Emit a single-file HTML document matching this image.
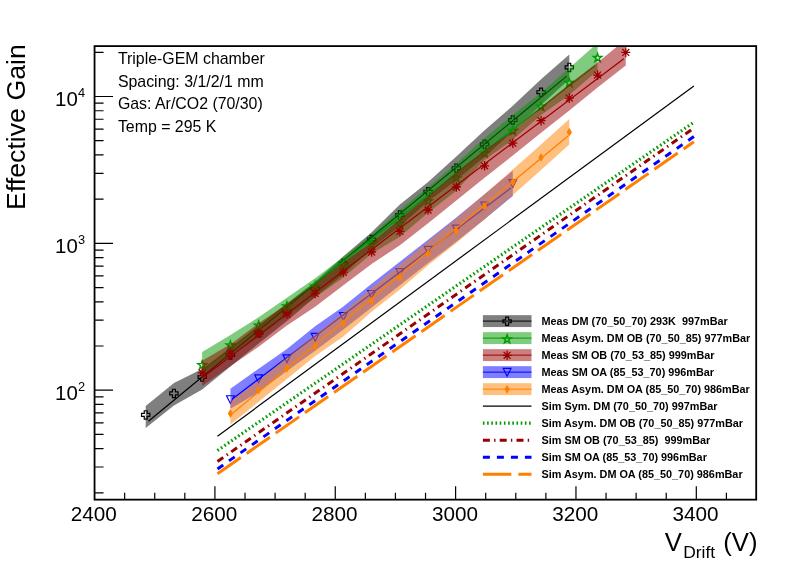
<!DOCTYPE html>
<html><head><meta charset="utf-8"><title>Effective Gain vs V Drift</title>
<style>html,body{margin:0;padding:0;background:#fff}body{width:788px;height:568px;position:relative;overflow:hidden;font-family:"Liberation Sans",sans-serif}</style></head>
<body>
<svg width="788" height="568" viewBox="0 0 788 568" style="position:absolute;left:0;top:0;filter:grayscale(0)">
<defs><clipPath id="fc"><rect x="94.55" y="46.1" width="661.65" height="453.55"/></clipPath></defs>
<rect x="0" y="0" width="788" height="568" fill="#fff"/>
<g clip-path="url(#fc)">
<polygon points="145.7,406.1 173.94,383 202.18,369 230.42,347.7 258.66,325.5 286.9,303.5 315.14,281.5 343.38,256.3 371.62,232.3 399.86,204.5 428.1,181.9 456.34,156.4 484.58,130.2 512.82,105.8 541.06,79.2 569.3,54.5 569.3,79.3 541.06,105.1 512.82,131.5 484.58,157 456.34,180 428.1,201.5 399.86,226.2 371.62,248 343.38,274.5 315.14,297 286.9,321 258.66,343.5 230.42,366.5 202.18,389.6 173.94,405.4 145.7,427.9" fill="#000000" fill-opacity="0.5"/>
<line x1="148.4" y1="421.3" x2="566.8" y2="76.1" stroke="#000000" stroke-width="1.2"/>
<polygon points="144.25,410.75 147.15,410.75 147.15,413.45 149.85,413.45 149.85,416.35 147.15,416.35 147.15,419.05 144.25,419.05 144.25,416.35 141.55,416.35 141.55,413.45 144.25,413.45" fill="none" stroke="#000000" stroke-width="1.2"/>
<polygon points="172.49,389.25 175.39,389.25 175.39,391.95 178.09,391.95 178.09,394.85 175.39,394.85 175.39,397.55 172.49,397.55 172.49,394.85 169.79,394.85 169.79,391.95 172.49,391.95" fill="none" stroke="#000000" stroke-width="1.2"/>
<polygon points="200.73,372.85 203.63,372.85 203.63,375.55 206.33,375.55 206.33,378.45 203.63,378.45 203.63,381.15 200.73,381.15 200.73,378.45 198.03,378.45 198.03,375.55 200.73,375.55" fill="none" stroke="#000000" stroke-width="1.2"/>
<polygon points="228.97,350.85 231.87,350.85 231.87,353.55 234.57,353.55 234.57,356.45 231.87,356.45 231.87,359.15 228.97,359.15 228.97,356.45 226.27,356.45 226.27,353.55 228.97,353.55" fill="none" stroke="#000000" stroke-width="1.2"/>
<polygon points="257.21,328.85 260.11,328.85 260.11,331.55 262.81,331.55 262.81,334.45 260.11,334.45 260.11,337.15 257.21,337.15 257.21,334.45 254.51,334.45 254.51,331.55 257.21,331.55" fill="none" stroke="#000000" stroke-width="1.2"/>
<polygon points="285.45,306.85 288.35,306.85 288.35,309.55 291.05,309.55 291.05,312.45 288.35,312.45 288.35,315.15 285.45,315.15 285.45,312.45 282.75,312.45 282.75,309.55 285.45,309.55" fill="none" stroke="#000000" stroke-width="1.2"/>
<polygon points="313.69,284.35 316.59,284.35 316.59,287.05 319.29,287.05 319.29,289.95 316.59,289.95 316.59,292.65 313.69,292.65 313.69,289.95 310.99,289.95 310.99,287.05 313.69,287.05" fill="none" stroke="#000000" stroke-width="1.2"/>
<polygon points="341.93,259.35 344.83,259.35 344.83,262.05 347.53,262.05 347.53,264.95 344.83,264.95 344.83,267.65 341.93,267.65 341.93,264.95 339.23,264.95 339.23,262.05 341.93,262.05" fill="none" stroke="#000000" stroke-width="1.2"/>
<polygon points="370.17,235.35 373.07,235.35 373.07,238.05 375.77,238.05 375.77,240.95 373.07,240.95 373.07,243.65 370.17,243.65 370.17,240.95 367.47,240.95 367.47,238.05 370.17,238.05" fill="none" stroke="#000000" stroke-width="1.2"/>
<polygon points="398.41,210.95 401.31,210.95 401.31,213.65 404.01,213.65 404.01,216.55 401.31,216.55 401.31,219.25 398.41,219.25 398.41,216.55 395.71,216.55 395.71,213.65 398.41,213.65" fill="none" stroke="#000000" stroke-width="1.2"/>
<polygon points="426.65,187.55 429.55,187.55 429.55,190.25 432.25,190.25 432.25,193.15 429.55,193.15 429.55,195.85 426.65,195.85 426.65,193.15 423.95,193.15 423.95,190.25 426.65,190.25" fill="none" stroke="#000000" stroke-width="1.2"/>
<polygon points="454.89,164.05 457.79,164.05 457.79,166.75 460.49,166.75 460.49,169.65 457.79,169.65 457.79,172.35 454.89,172.35 454.89,169.65 452.19,169.65 452.19,166.75 454.89,166.75" fill="none" stroke="#000000" stroke-width="1.2"/>
<polygon points="483.13,140.15 486.03,140.15 486.03,142.85 488.73,142.85 488.73,145.75 486.03,145.75 486.03,148.45 483.13,148.45 483.13,145.75 480.43,145.75 480.43,142.85 483.13,142.85" fill="none" stroke="#000000" stroke-width="1.2"/>
<polygon points="511.37,115.9 514.27,115.9 514.27,118.6 516.97,118.6 516.97,121.5 514.27,121.5 514.27,124.2 511.37,124.2 511.37,121.5 508.67,121.5 508.67,118.6 511.37,118.6" fill="none" stroke="#000000" stroke-width="1.2"/>
<polygon points="539.61,88.05 542.51,88.05 542.51,90.75 545.21,90.75 545.21,93.65 542.51,93.65 542.51,96.35 539.61,96.35 539.61,93.65 536.91,93.65 536.91,90.75 539.61,90.75" fill="none" stroke="#000000" stroke-width="1.2"/>
<polygon points="567.85,63.25 570.75,63.25 570.75,65.95 573.45,65.95 573.45,68.85 570.75,68.85 570.75,71.55 567.85,71.55 567.85,68.85 565.15,68.85 565.15,65.95 567.85,65.95" fill="none" stroke="#000000" stroke-width="1.2"/>
<polygon points="202.18,352.1 230.42,335.1 258.66,317.2 286.9,297.7 315.14,278.3 343.38,257 371.62,234.8 399.86,209.8 428.1,187.2 456.34,163.5 484.58,138.1 512.82,114.8 541.06,92.8 569.3,68 597.54,43 597.54,70.7 569.3,95 541.06,114.9 512.82,139.6 484.58,160.1 456.34,190.7 428.1,212.7 399.86,236.7 371.62,253.7 343.38,277.5 315.14,297.4 286.9,316 258.66,337.4 230.42,355 202.18,376.3" fill="#009900" fill-opacity="0.5"/>
<line x1="204" y1="369.2" x2="595.3" y2="65.6" stroke="#009900" stroke-width="1.2"/>
<polygon points="202.18,360.6 203.21,363.68 206.46,363.71 203.84,365.64 204.83,368.74 202.18,366.85 199.53,368.74 200.52,365.64 197.9,363.71 201.15,363.68" fill="none" stroke="#009900" stroke-width="1.35" stroke-linejoin="miter"/>
<polygon points="230.42,340.9 231.45,343.98 234.7,344.01 232.08,345.94 233.07,349.04 230.42,347.15 227.77,349.04 228.76,345.94 226.14,344.01 229.39,343.98" fill="none" stroke="#009900" stroke-width="1.35" stroke-linejoin="miter"/>
<polygon points="258.66,321 259.69,324.08 262.94,324.11 260.32,326.04 261.31,329.14 258.66,327.25 256.01,329.14 257,326.04 254.38,324.11 257.63,324.08" fill="none" stroke="#009900" stroke-width="1.35" stroke-linejoin="miter"/>
<polygon points="286.9,301.7 287.93,304.78 291.18,304.81 288.56,306.74 289.55,309.84 286.9,307.95 284.25,309.84 285.24,306.74 282.62,304.81 285.87,304.78" fill="none" stroke="#009900" stroke-width="1.35" stroke-linejoin="miter"/>
<polygon points="315.14,281.7 316.17,284.78 319.42,284.81 316.8,286.74 317.79,289.84 315.14,287.95 312.49,289.84 313.48,286.74 310.86,284.81 314.11,284.78" fill="none" stroke="#009900" stroke-width="1.35" stroke-linejoin="miter"/>
<polygon points="343.38,260.7 344.41,263.78 347.66,263.81 345.04,265.74 346.03,268.84 343.38,266.95 340.73,268.84 341.72,265.74 339.1,263.81 342.35,263.78" fill="none" stroke="#009900" stroke-width="1.35" stroke-linejoin="miter"/>
<polygon points="371.62,240 372.65,243.08 375.9,243.11 373.28,245.04 374.27,248.14 371.62,246.25 368.97,248.14 369.96,245.04 367.34,243.11 370.59,243.08" fill="none" stroke="#009900" stroke-width="1.35" stroke-linejoin="miter"/>
<polygon points="399.86,219.4 400.89,222.48 404.14,222.51 401.52,224.44 402.51,227.54 399.86,225.65 397.21,227.54 398.2,224.44 395.58,222.51 398.83,222.48" fill="none" stroke="#009900" stroke-width="1.35" stroke-linejoin="miter"/>
<polygon points="428.1,196.7 429.13,199.78 432.38,199.81 429.76,201.74 430.75,204.84 428.1,202.95 425.45,204.84 426.44,201.74 423.82,199.81 427.07,199.78" fill="none" stroke="#009900" stroke-width="1.35" stroke-linejoin="miter"/>
<polygon points="456.34,173.7 457.37,176.78 460.62,176.81 458,178.74 458.99,181.84 456.34,179.95 453.69,181.84 454.68,178.74 452.06,176.81 455.31,176.78" fill="none" stroke="#009900" stroke-width="1.35" stroke-linejoin="miter"/>
<polygon points="484.58,148.9 485.61,151.98 488.86,152.01 486.24,153.94 487.23,157.04 484.58,155.15 481.93,157.04 482.92,153.94 480.3,152.01 483.55,151.98" fill="none" stroke="#009900" stroke-width="1.35" stroke-linejoin="miter"/>
<polygon points="512.82,126.4 513.85,129.48 517.1,129.51 514.48,131.44 515.47,134.54 512.82,132.65 510.17,134.54 511.16,131.44 508.54,129.51 511.79,129.48" fill="none" stroke="#009900" stroke-width="1.35" stroke-linejoin="miter"/>
<polygon points="541.06,102.1 542.09,105.18 545.34,105.21 542.72,107.14 543.71,110.24 541.06,108.35 538.41,110.24 539.4,107.14 536.78,105.21 540.03,105.18" fill="none" stroke="#009900" stroke-width="1.35" stroke-linejoin="miter"/>
<polygon points="569.3,78.4 570.33,81.48 573.58,81.51 570.96,83.44 571.95,86.54 569.3,84.65 566.65,86.54 567.64,83.44 565.02,81.51 568.27,81.48" fill="none" stroke="#009900" stroke-width="1.35" stroke-linejoin="miter"/>
<polygon points="597.54,53.4 598.57,56.48 601.82,56.51 599.2,58.44 600.19,61.54 597.54,59.65 594.89,61.54 595.88,58.44 593.26,56.51 596.51,56.48" fill="none" stroke="#009900" stroke-width="1.35" stroke-linejoin="miter"/>
<polygon points="202.18,360.8 230.42,344.2 258.66,323.3 286.9,304.1 315.14,283.9 343.38,262.2 371.62,242.4 399.86,219.3 428.1,196 456.34,172.3 484.58,150 512.82,131.1 541.06,106.9 569.3,83.9 597.54,62.5 625.78,39.5 625.78,65.4 597.54,87.6 569.3,110.5 541.06,132.8 512.82,155.5 484.58,177.7 456.34,200.4 428.1,223.3 399.86,245.3 371.62,264 343.38,285.3 315.14,306.8 286.9,325.5 258.66,346.7 230.42,366.3 202.18,386" fill="#990000" fill-opacity="0.5"/>
<line x1="204" y1="376.5" x2="623.8" y2="58.7" stroke="#990000" stroke-width="1.2"/>
<path d="M202.18 368.1V377.7M197.68 372.9H206.68M198.73 369.45L205.63 376.35M198.73 376.35L205.63 369.45" fill="none" stroke="#990000" stroke-width="1.3"/>
<path d="M230.42 348.6V358.2M225.92 353.4H234.92M226.97 349.95L233.87 356.85M226.97 356.85L233.87 349.95" fill="none" stroke="#990000" stroke-width="1.3"/>
<path d="M258.66 328.5V338.1M254.16 333.3H263.16M255.21 329.85L262.11 336.75M255.21 336.75L262.11 329.85" fill="none" stroke="#990000" stroke-width="1.3"/>
<path d="M286.9 309.2V318.8M282.4 314H291.4M283.45 310.55L290.35 317.45M283.45 317.45L290.35 310.55" fill="none" stroke="#990000" stroke-width="1.3"/>
<path d="M315.14 288.6V298.2M310.64 293.4H319.64M311.69 289.95L318.59 296.85M311.69 296.85L318.59 289.95" fill="none" stroke="#990000" stroke-width="1.3"/>
<path d="M343.38 267.4V277M338.88 272.2H347.88M339.93 268.75L346.83 275.65M339.93 275.65L346.83 268.75" fill="none" stroke="#990000" stroke-width="1.3"/>
<path d="M371.62 247.2V256.8M367.12 252H376.12M368.17 248.55L375.07 255.45M368.17 255.45L375.07 248.55" fill="none" stroke="#990000" stroke-width="1.3"/>
<path d="M399.86 226.6V236.2M395.36 231.4H404.36M396.41 227.95L403.31 234.85M396.41 234.85L403.31 227.95" fill="none" stroke="#990000" stroke-width="1.3"/>
<path d="M428.1 205.2V214.8M423.6 210H432.6M424.65 206.55L431.55 213.45M424.65 213.45L431.55 206.55" fill="none" stroke="#990000" stroke-width="1.3"/>
<path d="M456.34 182.2V191.8M451.84 187H460.84M452.89 183.55L459.79 190.45M452.89 190.45L459.79 183.55" fill="none" stroke="#990000" stroke-width="1.3"/>
<path d="M484.58 161V170.6M480.08 165.8H489.08M481.13 162.35L488.03 169.25M481.13 169.25L488.03 162.35" fill="none" stroke="#990000" stroke-width="1.3"/>
<path d="M512.82 138.4V148M508.32 143.2H517.32M509.37 139.75L516.27 146.65M509.37 146.65L516.27 139.75" fill="none" stroke="#990000" stroke-width="1.3"/>
<path d="M541.06 115.9V125.5M536.56 120.7H545.56M537.61 117.25L544.51 124.15M537.61 124.15L544.51 117.25" fill="none" stroke="#990000" stroke-width="1.3"/>
<path d="M569.3 93.3V102.9M564.8 98.1H573.8M565.85 94.65L572.75 101.55M565.85 101.55L572.75 94.65" fill="none" stroke="#990000" stroke-width="1.3"/>
<path d="M597.54 70.3V79.9M593.04 75.1H602.04M594.09 71.65L600.99 78.55M594.09 78.55L600.99 71.65" fill="none" stroke="#990000" stroke-width="1.3"/>
<path d="M625.78 47.6V57.2M621.28 52.4H630.28M622.33 48.95L629.23 55.85M622.33 55.85L629.23 48.95" fill="none" stroke="#990000" stroke-width="1.3"/>
<polygon points="230.42,388.7 258.66,368.7 286.9,349 315.14,326.2 343.38,306.5 371.62,283.7 399.86,261.7 428.1,239.7 456.34,217.5 484.58,194.3 512.82,170.5 512.82,196 484.58,219.3 456.34,241.8 428.1,263.1 399.86,285.3 371.62,307.4 343.38,329.5 315.14,350.8 286.9,371 258.66,392.1 230.42,408.8" fill="#0000ff" fill-opacity="0.5"/>
<line x1="232.3" y1="398.9" x2="511" y2="188" stroke="#0000ff" stroke-width="1.3"/>
<polygon points="226.52,395.7 234.32,395.7 230.42,403.5" fill="none" stroke="#0000ff" stroke-width="1.15"/>
<polygon points="254.76,374.9 262.56,374.9 258.66,382.7" fill="none" stroke="#0000ff" stroke-width="1.15"/>
<polygon points="283,354.8 290.8,354.8 286.9,362.6" fill="none" stroke="#0000ff" stroke-width="1.15"/>
<polygon points="311.24,333.4 319.04,333.4 315.14,341.2" fill="none" stroke="#0000ff" stroke-width="1.15"/>
<polygon points="339.48,312.5 347.28,312.5 343.38,320.3" fill="none" stroke="#0000ff" stroke-width="1.15"/>
<polygon points="367.72,290.5 375.52,290.5 371.62,298.3" fill="none" stroke="#0000ff" stroke-width="1.15"/>
<polygon points="395.96,268.6 403.76,268.6 399.86,276.4" fill="none" stroke="#0000ff" stroke-width="1.15"/>
<polygon points="424.2,246.3 432,246.3 428.1,254.1" fill="none" stroke="#0000ff" stroke-width="1.15"/>
<polygon points="452.44,225.1 460.24,225.1 456.34,232.9" fill="none" stroke="#0000ff" stroke-width="1.15"/>
<polygon points="480.68,202.1 488.48,202.1 484.58,209.9" fill="none" stroke="#0000ff" stroke-width="1.15"/>
<polygon points="508.92,179.6 516.72,179.6 512.82,187.4" fill="none" stroke="#0000ff" stroke-width="1.15"/>
<polygon points="230.42,401.2 258.66,380.7 286.9,357.5 315.14,334.8 343.38,312.5 371.62,288.1 399.86,265 428.1,241.4 456.34,218.5 484.58,194 512.82,169.5 541.06,144.6 569.3,119.1 569.3,144.5 541.06,170 512.82,195 484.58,219.3 456.34,243 428.1,265.2 399.86,289.5 371.62,311.8 343.38,336.5 315.14,356 286.9,379 258.66,401.8 230.42,424.6" fill="#ff8000" fill-opacity="0.5"/>
<line x1="232.3" y1="413.6" x2="568" y2="135.9" stroke="#ff8000" stroke-width="1.3"/>
<polygon points="230.42,409.1 233.07,413.5 230.42,417.9 227.77,413.5" fill="#ff8000" stroke="none"/>
<polygon points="258.66,385.6 261.31,390 258.66,394.4 256.01,390" fill="#ff8000" stroke="none"/>
<polygon points="286.9,364 289.55,368.4 286.9,372.8 284.25,368.4" fill="#ff8000" stroke="none"/>
<polygon points="315.14,342 317.79,346.4 315.14,350.8 312.49,346.4" fill="#ff8000" stroke="none"/>
<polygon points="343.38,318.9 346.03,323.3 343.38,327.7 340.73,323.3" fill="#ff8000" stroke="none"/>
<polygon points="371.62,296.9 374.27,301.3 371.62,305.7 368.97,301.3" fill="#ff8000" stroke="none"/>
<polygon points="399.86,273.1 402.51,277.5 399.86,281.9 397.21,277.5" fill="#ff8000" stroke="none"/>
<polygon points="428.1,249.4 430.75,253.8 428.1,258.2 425.45,253.8" fill="#ff8000" stroke="none"/>
<polygon points="456.34,226.4 458.99,230.8 456.34,235.2 453.69,230.8" fill="#ff8000" stroke="none"/>
<polygon points="484.58,202.1 487.23,206.5 484.58,210.9 481.93,206.5" fill="#ff8000" stroke="none"/>
<polygon points="512.82,177.8 515.47,182.2 512.82,186.6 510.17,182.2" fill="#ff8000" stroke="none"/>
<polygon points="541.06,153 543.71,157.4 541.06,161.8 538.41,157.4" fill="#ff8000" stroke="none"/>
<polygon points="569.3,127.8 571.95,132.2 569.3,136.6 566.65,132.2" fill="#ff8000" stroke="none"/>
</g>
<line x1="217.5" y1="436.2" x2="693.9" y2="85.9" stroke="#000000" stroke-width="1.2"/>
<line x1="217.5" y1="450.5" x2="693.9" y2="122.2" stroke="#009900" stroke-width="3.2" stroke-dasharray="1.6 2.6"/>
<line x1="217.5" y1="461.5" x2="693.9" y2="128" stroke="#990000" stroke-width="3" stroke-dasharray="7 4.2 1.4 4.2"/>
<line x1="217.5" y1="468.9" x2="693.9" y2="136.6" stroke="#0000ff" stroke-width="3" stroke-dasharray="7 7"/>
<line x1="217.5" y1="473.7" x2="693.9" y2="141.8" stroke="#ff8000" stroke-width="3" stroke-dasharray="28.4 7.1"/>
<rect x="94.55" y="46.1" width="661.65" height="453.55" fill="none" stroke="#000" stroke-width="1.8"/>
<path d="M124.65 499.65V492.75M154.74 499.65V492.75M184.82 499.65V492.75M214.91 499.65V486.35M245 499.65V492.75M275.09 499.65V492.75M305.17 499.65V492.75M335.26 499.65V486.35M365.35 499.65V492.75M395.44 499.65V492.75M425.52 499.65V492.75M455.61 499.65V486.35M485.7 499.65V492.75M515.79 499.65V492.75M545.87 499.65V492.75M575.96 499.65V486.35M606.05 499.65V492.75M636.13 499.65V492.75M666.22 499.65V492.75M696.31 499.65V486.35M726.4 499.65V492.75M94.55 492.84H103.55M94.55 466.98H103.55M94.55 448.64H103.55M94.55 434.41H103.55M94.55 422.78H103.55M94.55 412.95H103.55M94.55 404.43H103.55M94.55 396.92H103.55M94.55 390.2H113.05M94.55 345.99H103.55M94.55 320.13H103.55M94.55 301.79H103.55M94.55 287.56H103.55M94.55 275.93H103.55M94.55 266.1H103.55M94.55 257.58H103.55M94.55 250.07H103.55M94.55 243.35H113.05M94.55 199.14H103.55M94.55 173.28H103.55M94.55 154.94H103.55M94.55 140.71H103.55M94.55 129.08H103.55M94.55 119.25H103.55M94.55 110.73H103.55M94.55 103.22H103.55M94.55 96.5H113.05M94.55 52.29H103.55" stroke="#000" stroke-width="1.2" fill="none"/>
<rect x="482.9" y="315.15" width="48.6" height="11.9" fill="#000000" fill-opacity="0.5"/>
<line x1="482.9" y1="321.1" x2="531.5" y2="321.1" stroke="#000000" stroke-width="1"/>
<polygon points="505.65,317.15 508.55,317.15 508.55,319.85 511.25,319.85 511.25,322.75 508.55,322.75 508.55,325.45 505.65,325.45 505.65,322.75 502.95,322.75 502.95,319.85 505.65,319.85" fill="none" stroke="#000000" stroke-width="1.2"/>
<rect x="482.9" y="332.16" width="48.6" height="11.9" fill="#009900" fill-opacity="0.5"/>
<line x1="482.9" y1="338.11" x2="531.5" y2="338.11" stroke="#009900" stroke-width="1"/>
<polygon points="507.1,334.71 508.13,337.79 511.38,337.82 508.76,339.75 509.75,342.85 507.1,340.96 504.45,342.85 505.44,339.75 502.82,337.82 506.07,337.79" fill="none" stroke="#009900" stroke-width="1.35" stroke-linejoin="miter"/>
<rect x="482.9" y="349.17" width="48.6" height="11.9" fill="#990000" fill-opacity="0.5"/>
<line x1="482.9" y1="355.12" x2="531.5" y2="355.12" stroke="#990000" stroke-width="1"/>
<path d="M507.1 350.52V360.12M502.6 355.32H511.6M503.65 351.87L510.55 358.77M503.65 358.77L510.55 351.87" fill="none" stroke="#990000" stroke-width="1.3"/>
<rect x="482.9" y="366.18" width="48.6" height="11.9" fill="#0000ff" fill-opacity="0.5"/>
<line x1="482.9" y1="372.13" x2="531.5" y2="372.13" stroke="#0000ff" stroke-width="1"/>
<polygon points="503.2,368.43 511,368.43 507.1,376.23" fill="none" stroke="#0000ff" stroke-width="1.15"/>
<rect x="482.9" y="383.19" width="48.6" height="11.9" fill="#ff8000" fill-opacity="0.5"/>
<line x1="482.9" y1="389.14" x2="531.5" y2="389.14" stroke="#ff8000" stroke-width="1"/>
<polygon points="507.1,384.94 509.75,389.34 507.1,393.74 504.45,389.34" fill="#ff8000" stroke="none"/>
<line x1="482.9" y1="406.15" x2="531.5" y2="406.15" stroke="#000000" stroke-width="1.2"/>
<line x1="482.9" y1="423.16" x2="531.5" y2="423.16" stroke="#009900" stroke-width="3.2" stroke-dasharray="1.6 2.6"/>
<line x1="482.9" y1="440.17" x2="531.5" y2="440.17" stroke="#990000" stroke-width="3" stroke-dasharray="7 4.2 1.4 4.2"/>
<line x1="482.9" y1="457.18" x2="531.5" y2="457.18" stroke="#0000ff" stroke-width="3" stroke-dasharray="7 7"/>
<line x1="482.9" y1="474.19" x2="531.5" y2="474.19" stroke="#ff8000" stroke-width="3" stroke-dasharray="28.4 7.1"/>
<text x="541.5" y="324.95" font-family="Liberation Sans, sans-serif" font-size="10.85" font-weight="bold" style="white-space:pre" class="lt">Meas DM (70_50_70) 293K  997mBar</text>
<text x="541.5" y="341.96" font-family="Liberation Sans, sans-serif" font-size="10.85" font-weight="bold" style="white-space:pre" class="lt">Meas Asym. DM OB (70_50_85) 977mBar</text>
<text x="541.5" y="358.97" font-family="Liberation Sans, sans-serif" font-size="10.85" font-weight="bold" style="white-space:pre" class="lt">Meas SM OB (70_53_85) 999mBar</text>
<text x="541.5" y="375.98" font-family="Liberation Sans, sans-serif" font-size="10.85" font-weight="bold" style="white-space:pre" class="lt">Meas SM OA (85_53_70) 996mBar</text>
<text x="541.5" y="392.99" font-family="Liberation Sans, sans-serif" font-size="10.85" font-weight="bold" style="white-space:pre" class="lt">Meas Asym. DM OA (85_50_70) 986mBar</text>
<text x="541.5" y="410" font-family="Liberation Sans, sans-serif" font-size="10.85" font-weight="bold" style="white-space:pre" class="lt">Sim Sym. DM (70_50_70) 997mBar</text>
<text x="541.5" y="427.01" font-family="Liberation Sans, sans-serif" font-size="10.85" font-weight="bold" style="white-space:pre" class="lt">Sim Asym. DM OB (70_50_85) 977mBar</text>
<text x="541.5" y="444.02" font-family="Liberation Sans, sans-serif" font-size="10.85" font-weight="bold" style="white-space:pre" class="lt">Sim SM OB (70_53_85)  999mBar</text>
<text x="541.5" y="461.03" font-family="Liberation Sans, sans-serif" font-size="10.85" font-weight="bold" style="white-space:pre" class="lt">Sim SM OA (85_53_70) 996mBar</text>
<text x="541.5" y="478.04" font-family="Liberation Sans, sans-serif" font-size="10.85" font-weight="bold" style="white-space:pre" class="lt">Sim Asym. DM OA (85_50_70) 986mBar</text>
<text x="117.9" y="64.1" font-family="Liberation Sans, sans-serif" font-size="15.9" class="tt">Triple-GEM chamber</text>
<text x="117.9" y="86.7" font-family="Liberation Sans, sans-serif" font-size="15.9" class="tt">Spacing: 3/1/2/1 mm</text>
<text x="117.9" y="109.3" font-family="Liberation Sans, sans-serif" font-size="15.9" class="tt">Gas: Ar/CO2 (70/30)</text>
<text x="117.9" y="131.9" font-family="Liberation Sans, sans-serif" font-size="15.9" class="tt">Temp = 295 K</text>
<text x="93.86" y="521.2" font-family="Liberation Sans, sans-serif" font-size="20.7" text-anchor="middle" class="xl">2400</text>
<text x="214.21" y="521.2" font-family="Liberation Sans, sans-serif" font-size="20.7" text-anchor="middle" class="xl">2600</text>
<text x="334.56" y="521.2" font-family="Liberation Sans, sans-serif" font-size="20.7" text-anchor="middle" class="xl">2800</text>
<text x="454.91" y="521.2" font-family="Liberation Sans, sans-serif" font-size="20.7" text-anchor="middle" class="xl">3000</text>
<text x="575.26" y="521.2" font-family="Liberation Sans, sans-serif" font-size="20.7" text-anchor="middle" class="xl">3200</text>
<text x="695.61" y="521.2" font-family="Liberation Sans, sans-serif" font-size="20.7" text-anchor="middle" class="xl">3400</text>
<text x="55.1" y="399.8" font-family="Liberation Sans, sans-serif" font-size="20.4" class="yl">10</text>
<text x="77.9" y="390.9" font-family="Liberation Sans, sans-serif" font-size="12.8" class="ye">2</text>
<text x="55.1" y="252.95" font-family="Liberation Sans, sans-serif" font-size="20.4" class="yl">10</text>
<text x="77.9" y="244.05" font-family="Liberation Sans, sans-serif" font-size="12.8" class="ye">3</text>
<text x="55.1" y="106.1" font-family="Liberation Sans, sans-serif" font-size="20.4" class="yl">10</text>
<text x="77.9" y="97.2" font-family="Liberation Sans, sans-serif" font-size="12.8" class="ye">4</text>
<text transform="translate(24.6,209.9) rotate(-90)" font-family="Liberation Sans, sans-serif" font-size="26.7" class="yt">Effective Gain</text>
<text x="664.7" y="550.7" font-family="Liberation Sans, sans-serif" font-size="25.7" class="xt">V</text>
<text x="683.2" y="557.9" font-family="Liberation Sans, sans-serif" font-size="17.4" class="xs">Drift</text>
<text x="723.2" y="550.7" font-family="Liberation Sans, sans-serif" font-size="25.7" class="xp">(V)</text>
</svg>
</body></html>
